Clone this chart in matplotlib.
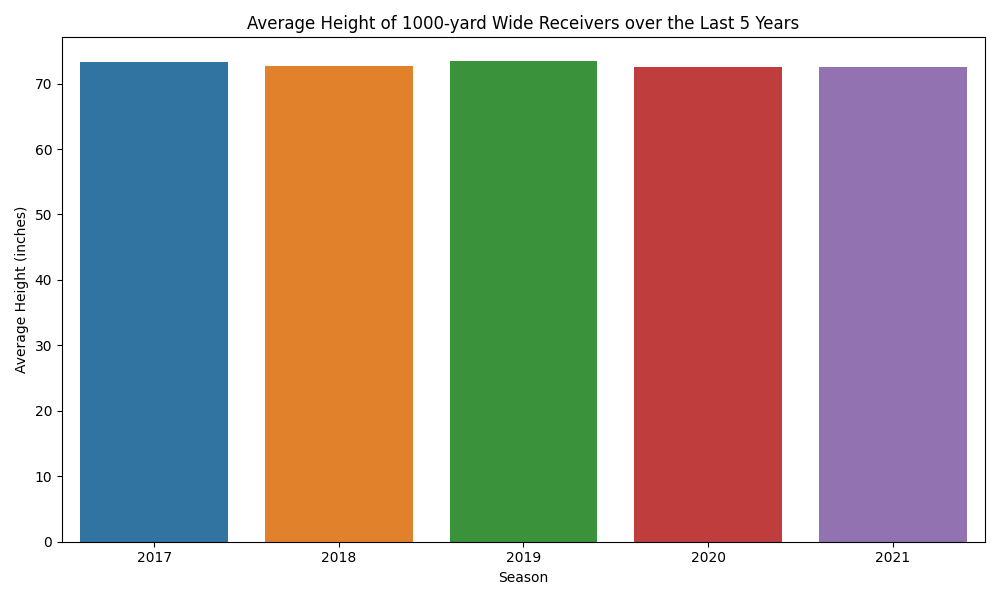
import matplotlib
matplotlib.use("Agg")
import matplotlib.pyplot as plt
import seaborn as sns

seasons = ["2017", "2018", "2019", "2020", "2021"]
heights = [73.25, 72.65, 73.4, 72.5, 72.5]

fig, ax = plt.subplots(figsize=(10, 6), dpi=100)
sns.barplot(x=seasons, y=heights, hue=seasons, palette=sns.color_palette()[:5], legend=False, ax=ax)
ax.set_title("Average Height of 1000-yard Wide Receivers over the Last 5 Years")
ax.set_xlabel("Season")
ax.set_ylabel("Average Height (inches)")
plt.tight_layout()
fig.savefig("out.png")
